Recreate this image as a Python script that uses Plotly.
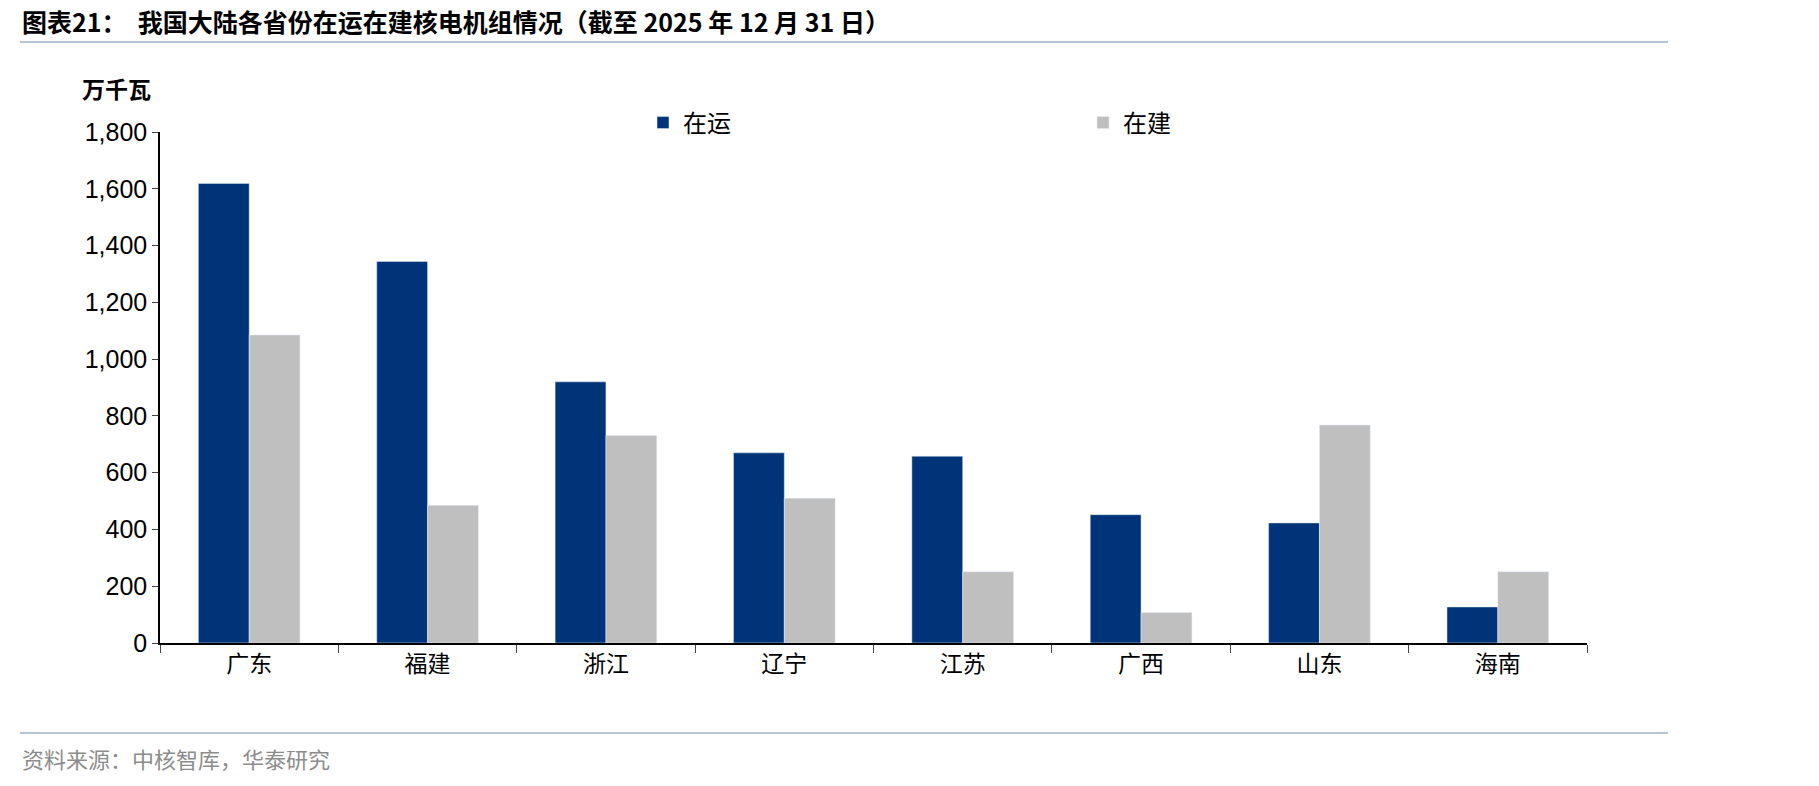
import plotly.graph_objects as go

W, H = 1819, 786
categories = ["广东", "福建", "浙江", "辽宁", "江苏", "广西", "山东", "海南"]
operating = [1619, 1344, 920, 670, 658, 452, 423, 127]
building = [1085, 485, 731, 510, 251, 107, 768, 251]
yticks = [0, 200, 400, 600, 800, 1000, 1200, 1400, 1600, 1800]

L, R, T, B = 152, 240, 124, 151
font = "Noto Sans CJK SC, Arial"
fig = go.Figure()
fig.add_bar(x=categories, y=operating, name="在运", marker_color="#003478")
fig.add_bar(x=categories, y=building, name="在建", marker_color="#BFBFBF")

fig.update_layout(
    width=W, height=H, plot_bgcolor="white", paper_bgcolor="white",
    margin=dict(l=L, r=R, t=T, b=B),
    barmode="group", bargap=0.43, bargroupgap=0,
    font=dict(family=font, color="#000"),
    legend=dict(orientation="h", xanchor="left", yanchor="middle",
                font=dict(size=24), entrywidth=395, itemwidth=30),
    showlegend=True,
)
fig.update_yaxes(range=[0, 1800], tickvals=yticks, tickformat=",", showgrid=False,
                 showline=True, linecolor="#000", linewidth=1.5, ticks="outside",
                 ticklen=6, tickfont=dict(size=25, family="Liberation Sans, Arial"))
fig.update_xaxes(showline=True, linecolor="#000", linewidth=1.5, ticks="outside",
                 tickson="boundaries", ticklen=8, tickfont=dict(size=23))

pw = W - L - R; ph = H - T - B
def px(x): return (x - L) / pw
def py(y): return (H - y - B) / ph

fig.add_annotation(x=px(12), y=py(13), text="<b>图表21：  我国大陆各省份在运在建核电机组情况（截至 2025 年 12 月 31 日）</b>",
                   xanchor="left", yanchor="middle", font=dict(size=25))
fig.add_annotation(x=px(108), y=py(80), text="<b>万千瓦</b>",
                   xanchor="center", yanchor="middle", font=dict(size=23))
fig.add_annotation(x=px(12), y=py(750), text="资料来源：中核智库，华泰研究",
                   xanchor="left", yanchor="middle", font=dict(size=22, color="#8c8c8c"))
fig.update_annotations(xref="paper", yref="paper", showarrow=False)
for yy in (34, 725):
    fig.add_shape(type="line", xref="paper", yref="paper", x0=px(12), x1=px(1660),
                  y0=py(yy), y1=py(yy), line=dict(color="#9fb3c8", width=1.5))
fig.layout.legend.x = px(635)
fig.layout.legend.y = py(115)
fig.write_html("out.html")
